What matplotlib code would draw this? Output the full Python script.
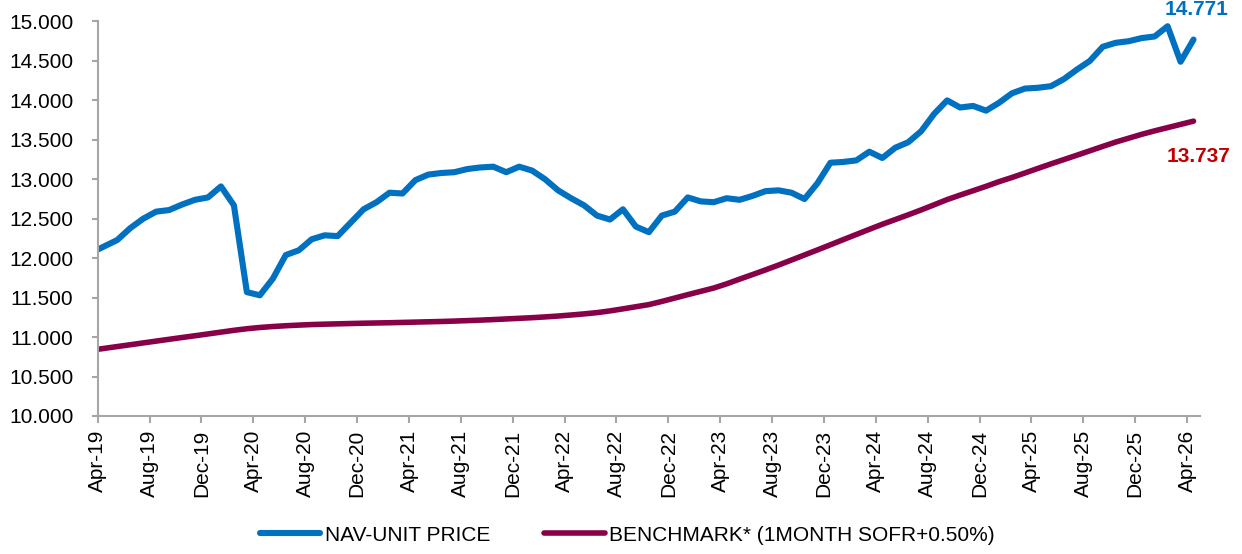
import numpy as np
import matplotlib
matplotlib.use("Agg")
import matplotlib.pyplot as plt

plt.rcParams["font.family"] = ["Liberation Sans", "DejaVu Sans"]

# month positions: index 0 = Apr-19; points sit mid-month, first one is Mar-19
month_idx = list(range(-1, 85))

nav = [
    12.07, 12.15, 12.23, 12.38, 12.50, 12.59, 12.61, 12.68, 12.74, 12.77,
    12.91, 12.67, 11.57, 11.53, 11.74, 12.04, 12.10, 12.24, 12.29, 12.28,
    12.45, 12.62, 12.71, 12.83, 12.82, 12.99, 13.06, 13.08, 13.09, 13.13,
    13.15, 13.16, 13.09, 13.16, 13.11, 13.00, 12.86, 12.76, 12.67, 12.54,
    12.49, 12.62, 12.40, 12.33, 12.54, 12.59, 12.77, 12.72, 12.71, 12.76,
    12.74, 12.79, 12.85, 12.86, 12.83, 12.75, 12.95, 13.21, 13.22, 13.24,
    13.35, 13.27, 13.40, 13.47, 13.61, 13.83, 14.00, 13.91, 13.93, 13.87,
    13.97, 14.09, 14.15, 14.16, 14.18, 14.27, 14.39, 14.50, 14.68, 14.73,
    14.75, 14.79, 14.81, 14.94, 14.49, 14.771,
]

benchmark = [
    10.834, 10.857, 10.880, 10.903, 10.926, 10.949, 10.972, 10.995, 11.017, 11.040,
    11.063, 11.086, 11.106, 11.122, 11.134, 11.144, 11.152, 11.159, 11.164, 11.168,
    11.172, 11.176, 11.179, 11.182, 11.186, 11.190, 11.194, 11.198, 11.203, 11.209,
    11.215, 11.222, 11.230, 11.238, 11.246, 11.256, 11.267, 11.280, 11.294, 11.310,
    11.332, 11.358, 11.385, 11.412, 11.452, 11.495, 11.538, 11.580, 11.622, 11.675,
    11.735, 11.793, 11.852, 11.913, 11.977, 12.041, 12.105, 12.170, 12.236, 12.301,
    12.366, 12.430, 12.490, 12.550, 12.612, 12.677, 12.743, 12.800, 12.855, 12.911,
    12.970, 13.023, 13.080, 13.138, 13.195, 13.250, 13.305, 13.361, 13.417, 13.472,
    13.521, 13.570, 13.614, 13.655, 13.696, 13.737,
]

tick_labels = [
    "Apr-19", "Aug-19", "Dec-19", "Apr-20", "Aug-20", "Dec-20", "Apr-21", "Aug-21",
    "Dec-21", "Apr-22", "Aug-22", "Dec-22", "Apr-23", "Aug-23", "Dec-23", "Apr-24",
    "Aug-24", "Dec-24", "Apr-25", "Aug-25", "Dec-25", "Apr-26",
]
y_ticks = [10.0, 10.5, 11.0, 11.5, 12.0, 12.5, 13.0, 13.5, 14.0, 14.5, 15.0]

NAV_COLOR = "#0070C0"
BENCH_COLOR = "#870048"
AXIS_COLOR = "#A6A6A6"

x = np.array(month_idx) + 0.5

fig = plt.figure(figsize=(12.42, 5.54), dpi=100)
ax = fig.add_axes([0.0787, 0.2491, 0.8875, 0.7121])

ax.plot(x, nav, color=NAV_COLOR, lw=4.4, label="NAV-UNIT PRICE",
        solid_joinstyle="round", solid_capstyle="round")
ax.plot(x, benchmark, color=BENCH_COLOR, lw=4.0, label="BENCHMARK* (1MONTH SOFR+0.50%)",
        solid_joinstyle="round", solid_capstyle="round")

ax.set_xlim(0, 85)
ax.set_ylim(10, 15)
ax.set_xticks(range(0, 85, 4))
ax.set_xticklabels(tick_labels, rotation=90)
ax.set_yticks(y_ticks)
ax.set_yticklabels([f"{v:.3f}" for v in y_ticks])

for side in ["top", "right"]:
    ax.spines[side].set_visible(False)
for side in ["left", "bottom"]:
    ax.spines[side].set_color(AXIS_COLOR)
    ax.spines[side].set_linewidth(1.5)

ax.tick_params(axis="x", direction="out", length=5, width=1.5, color=AXIS_COLOR,
               labelsize=15, pad=5)
ax.tick_params(axis="y", direction="out", length=4.5, width=1.5, color=AXIS_COLOR,
               labelsize=15, pad=13)

ax.annotate(f"{nav[-1]:.3f}", xy=(x[-1], nav[-1]), xytext=(3, 30),
            textcoords="offset pixels", ha="center", va="center",
            fontsize=15, fontweight="bold", color=NAV_COLOR, annotation_clip=False)
ax.annotate(f"{benchmark[-1]:.3f}", xy=(x[-1], benchmark[-1]), xytext=(5, -35),
            textcoords="offset pixels", ha="center", va="center",
            fontsize=15, fontweight="bold", color="#C00000", annotation_clip=False)

fig.legend(loc="center", bbox_to_anchor=(0.505, 0.034), ncol=2, frameon=False,
           fontsize=15, handlelength=2.9, handletextpad=0.2, columnspacing=2.6)

fig.savefig("out.png", dpi=100)
